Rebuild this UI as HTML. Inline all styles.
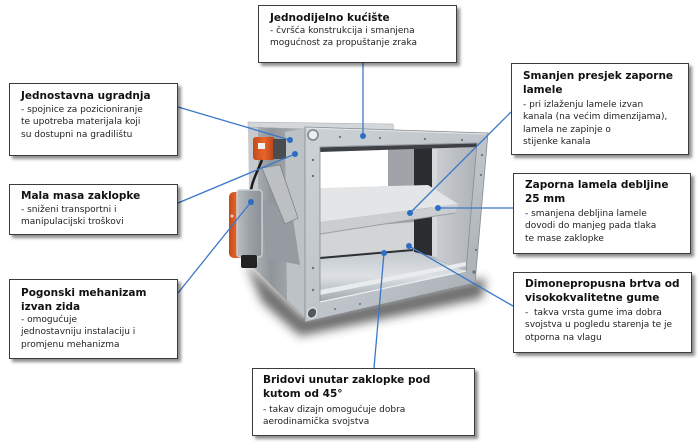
<!DOCTYPE html>
<html><head><meta charset="utf-8">
<style>
html,body{margin:0;padding:0;background:#fff;}
body{width:700px;height:443px;position:relative;overflow:hidden;font-family:"DejaVu Sans","Liberation Sans",sans-serif;}
.box{position:absolute;box-sizing:border-box;background:#fff;border:1.5px solid #3c3c3c;box-shadow:3px 3px 3px rgba(0,0,0,0.45);}
.t{position:absolute;font-weight:bold;font-size:10.5px;line-height:14px;color:#111;white-space:nowrap;}
.b{position:absolute;font-size:9px;line-height:12.6px;color:#1e1e1e;white-space:nowrap;}
svg{position:absolute;left:0;top:0;}
</style></head><body>

<svg width="700" height="443" viewBox="0 0 700 443">
<defs>
<filter id="bl" x="-30%" y="-30%" width="160%" height="160%"><feGaussianBlur stdDeviation="5"/></filter>
<linearGradient id="side" x1="0" y1="0" x2="1" y2="0">
<stop offset="0" stop-color="#b9bec2"/><stop offset="0.4" stop-color="#8f959a"/><stop offset="1" stop-color="#b0b5b9"/></linearGradient>
<linearGradient id="frame" x1="0" y1="0" x2="1" y2="1">
<stop offset="0" stop-color="#cdd2d6"/><stop offset="0.6" stop-color="#bcc2c7"/><stop offset="1" stop-color="#a2a9af"/></linearGradient>
<linearGradient id="rw" x1="0" y1="0" x2="1" y2="0">
<stop offset="0" stop-color="#c9ccd0"/><stop offset="1" stop-color="#aeb3b8"/></linearGradient>
<linearGradient id="floor" x1="0" y1="0" x2="0" y2="1">
<stop offset="0" stop-color="#c2c8cd"/><stop offset="0.5" stop-color="#dde1e4"/><stop offset="1" stop-color="#9ea6ad"/></linearGradient>
<linearGradient id="or" x1="0" y1="0" x2="1" y2="0">
<stop offset="0" stop-color="#c44a1a"/><stop offset="0.5" stop-color="#ea642a"/><stop offset="1" stop-color="#b4441a"/></linearGradient>
<linearGradient id="cov" x1="0" y1="0" x2="1" y2="0">
<stop offset="0" stop-color="#b9bdc1"/><stop offset="0.5" stop-color="#9ca2a7"/><stop offset="1" stop-color="#8a9095"/></linearGradient>
</defs>

<!-- shadow -->
<polygon points="245,262 262,302 300,336 482,298 486,278 305,318" fill="#2e2e2e" opacity="0.7" filter="url(#bl)"/>

<!-- casing side -->
<polygon points="248,124 306,127 306,320 252,266" fill="url(#side)"/>
<polygon points="248,124 258,124 258,262 250,264" fill="#c6cacd"/>
<polygon points="285,132 306,128 306,318 287,300" fill="#bdc2c6"/>
<polygon points="248,122 393,124 394,132 306,129 248,127" fill="#d3d7da" stroke="#a3a8ac" stroke-width="0.5"/>

<!-- interior -->
<polygon points="320,147 477,143 466,271 320,302" fill="#b3b8bc"/>
<polygon points="320,150 388,149 388,186 320,190" fill="#ffffff"/>
<polygon points="388,148 415,147 415,252 388,254" fill="#a0a4a8"/>
<polygon points="414,146 432,146 432,256 414,252" fill="#2a2c2f"/>
<polygon points="432,146 438,146 438,258 432,256" fill="#d6d9dc"/>
<polygon points="437,145 477,143 466,271 437,259" fill="url(#rw)"/>
<polygon points="320,147 477,143 477,147 320,152" fill="#3d4044"/>
<polygon points="320,230 414,222 414,250 320,258" fill="#d3d4d5"/>
<polygon points="320,259 412,251 466,271 320,302" fill="url(#floor)"/>
<line x1="320" y1="258" x2="413" y2="250" stroke="#2e3033" stroke-width="2"/>
<polygon points="320,290 466,262 466,266 320,295" fill="#e9ecee"/>

<!-- blade -->
<polygon points="320,188 428,185 458,204 320,222" fill="#e3e5e7"/>
<polygon points="320,222 458,204 455,213 320,234" fill="#cbced1"/>
<line x1="320" y1="234" x2="455" y2="213" stroke="#9a9fa3" stroke-width="1"/>

<!-- front frame -->
<path d="M305,127 L488,133 L475,283 L305,322 Z M320,147 L477,143 L466,271 L320,302 Z" fill="url(#frame)" fill-rule="evenodd" stroke="#858b90" stroke-width="0.8"/>
<line x1="320" y1="147" x2="477" y2="143" stroke="#939a9f" stroke-width="1"/>
<line x1="320" y1="302" x2="466" y2="271" stroke="#eef0f2" stroke-width="1.2"/>
<line x1="306" y1="128" x2="487" y2="134" stroke="#e4e7e9" stroke-width="1"/>
<circle cx="313" cy="135" r="5" fill="#eceef0" stroke="#7d8388" stroke-width="1.5"/>
<ellipse cx="312" cy="313" rx="4.5" ry="5.5" fill="#55595d" stroke="#e6e8ea" stroke-width="1.2" transform="rotate(30 312 313)"/>
<g fill="#6c7277">
<circle cx="313" cy="160" r="1.2"/><circle cx="313" cy="176" r="1.2"/><circle cx="313" cy="268" r="1.2"/><circle cx="313" cy="290" r="1.2"/>
<circle cx="340" cy="137" r="1.1"/><circle cx="380" cy="138" r="1.1"/><circle cx="425" cy="139" r="1.1"/><circle cx="462" cy="140" r="1.1"/>
<circle cx="482" cy="155" r="1.1"/><circle cx="481" cy="175" r="1.1"/><circle cx="476" cy="250" r="1.1"/><circle cx="474" cy="272" r="1.6"/>
<circle cx="335" cy="309" r="1"/><circle cx="360" cy="304" r="1"/>
</g>

<!-- mechanism -->
<polygon points="262,200 292,212 300,265 266,258" fill="#959ba0"/>
<rect x="253" y="137" width="22" height="23" rx="3" fill="url(#or)"/>
<rect x="273" y="139" width="13" height="20" fill="#4a4c4f"/>
<rect x="258" y="143" width="7" height="6" fill="#f1f1f1"/>
<path d="M262,160 C256,175 249,186 251,200" fill="none" stroke="#1a1a1a" stroke-width="2.5"/>
<polygon points="262,168 280,165 298,218 285,224" fill="#bcc0c3" stroke="#7f858a" stroke-width="0.8"/>
<rect x="229" y="192" width="16" height="66" rx="5" fill="url(#or)"/>
<rect x="237" y="190" width="25" height="67" rx="3" fill="url(#cov)" stroke="#c9cdd0" stroke-width="1.5"/>
<rect x="241" y="255" width="16" height="13" rx="2" fill="#222"/>
<circle cx="232" cy="216" r="1.5" fill="#f3d0c0"/>

<!-- connectors -->
<g stroke="#3b78c9" stroke-width="1.3" fill="none">
<line x1="363" y1="63" x2="363" y2="136"/>
<line x1="178" y1="107" x2="290" y2="140"/>
<line x1="178" y1="203" x2="295" y2="154"/>
<line x1="178" y1="293" x2="251" y2="202"/>
<line x1="511" y1="112" x2="410" y2="213"/>
<line x1="513" y1="208" x2="438" y2="208"/>
<line x1="513" y1="306" x2="409" y2="246"/>
<line x1="374" y1="368" x2="384" y2="253"/>
</g>
<g fill="#2e6dc6">
<circle cx="363" cy="136" r="3"/>
<circle cx="290" cy="140" r="3"/>
<circle cx="295" cy="154" r="3"/>
<circle cx="251" cy="202" r="3"/>
<circle cx="410" cy="213" r="3"/>
<circle cx="438" cy="208" r="3"/>
<circle cx="409" cy="246" r="3"/>
<circle cx="384" cy="253" r="3"/>
</g>
</svg>

<div class="box" style="left:258px;top:5px;width:199px;height:58px;"></div>
<div class="t" style="left:270px;top:11.4px;">Jednodijelno kućište</div>
<div class="b" style="left:270px;top:24.6px;">- čvršća konstrukcija i smanjena<br>mogućnost za propuštanje zraka</div>

<div class="box" style="left:9px;top:83px;width:169px;height:73px;"></div>
<div class="t" style="left:21px;top:89.4px;">Jednostavna ugradnja</div>
<div class="b" style="left:21px;top:103.6px;">- spojnice za pozicioniranje<br>te upotreba materijala koji<br>su dostupni na gradilištu</div>

<div class="box" style="left:9px;top:184px;width:169px;height:51px;"></div>
<div class="t" style="left:21px;top:189.4px;">Mala masa zaklopke</div>
<div class="b" style="left:21px;top:203.6px;">- sniženi transportni i<br>manipulacijski troškovi</div>

<div class="box" style="left:9px;top:279px;width:169px;height:80px;"></div>
<div class="t" style="left:21px;top:286.4px;">Pogonski mehanizam<br>izvan zida</div>
<div class="b" style="left:21px;top:313.6px;">- omogućuje<br>jednostavniju instalaciju i<br>promjenu mehanizma</div>

<div class="box" style="left:252px;top:368px;width:223px;height:68px;"></div>
<div class="t" style="left:263px;top:373.4px;">Bridovi unutar zaklopke pod<br>kutom od 45°</div>
<div class="b" style="left:263px;top:403.6px;">- takav dizajn omogućuje dobra<br>aerodinamička svojstva</div>

<div class="box" style="left:511px;top:63px;width:178px;height:92px;"></div>
<div class="t" style="left:523px;top:69.4px;">Smanjen presjek zaporne<br>lamele</div>
<div class="b" style="left:523px;top:98.6px;">- pri izlaženju lamele izvan<br>kanala (na većim dimenzijama),<br>lamela ne zapinje o<br>stijenke kanala</div>

<div class="box" style="left:513px;top:173px;width:178px;height:81px;"></div>
<div class="t" style="left:525px;top:178.4px;">Zaporna lamela debljine<br>25 mm</div>
<div class="b" style="left:525px;top:207.6px;">- smanjena debljina lamele<br>dovodi do manjeg pada tlaka<br>te mase zaklopke</div>

<div class="box" style="left:513px;top:272px;width:179px;height:81px;"></div>
<div class="t" style="left:525px;top:277.4px;">Dimonepropusna brtva od<br>visokokvalitetne gume</div>
<div class="b" style="left:525px;top:306.6px;">-&nbsp; takva vrsta gume ima dobra<br>svojstva u pogledu starenja te je<br>otporna na vlagu</div>

</body></html>
